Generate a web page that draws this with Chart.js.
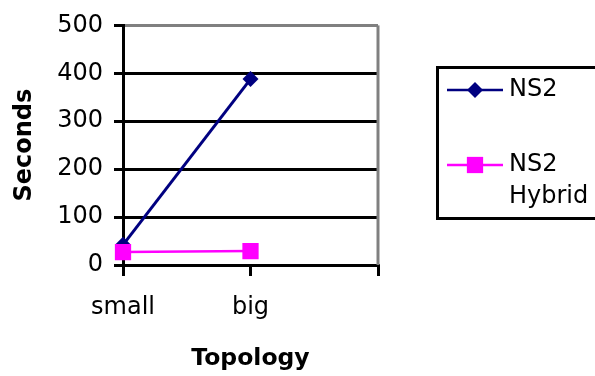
<!DOCTYPE html>
<html>
<head>
<meta charset="utf-8">
<script src="https://cdn.jsdelivr.net/npm/chart.js@4.4.1/dist/chart.umd.min.js"></script>
<style>
  html, body { margin: 0; padding: 0; background: #fff; }
  #wrap { width: 595px; height: 376px; }
</style>
</head>
<body>
<div id="wrap"><canvas id="chart" width="595" height="376"></canvas></div>
<script>
var categories = ['small', 'big', ''];
var ns2 = [42, 388];
var ns2Hybrid = [27, 29];
var yTicks = [0, 100, 200, 300, 400, 500];

var FONT = 'DejaVu Sans';

// boxed legend on the right, partly running off the edge
var boxLegend = {
  id: 'boxLegend',
  afterDraw: function(chart) {
    var ctx = chart.ctx;
    var ds = chart.data.datasets;
    ctx.save();
    ctx.strokeStyle = '#000';
    ctx.lineWidth = 3;
    ctx.strokeRect(437.5, 67.5, 200, 151);

    var rows = [
      { d: ds[1], y: 90, text: ['NS2'] },
      { d: ds[0], y: 165, text: ['NS2', 'Hybrid'] }
    ];
    rows.forEach(function(r) {
      ctx.strokeStyle = r.d.borderColor;
      ctx.lineWidth = 2.5;
      ctx.beginPath();
      ctx.moveTo(447, r.y);
      ctx.lineTo(503, r.y);
      ctx.stroke();
      ctx.fillStyle = r.d.pointBackgroundColor;
      Chart.helpers.drawPoint(ctx, {
        pointStyle: r.d.pointStyle,
        radius: r.d.pointRadius,
        borderWidth: 0,
        rotation: 0
      }, 475, r.y);
      ctx.fillStyle = '#000';
      ctx.font = '24px "' + FONT + '"';
      ctx.textBaseline = 'middle';
      ctx.textAlign = 'left';
      r.text.forEach(function(t, i) {
        ctx.fillText(t, 509, r.y + i * 32);
      });
    });
    ctx.restore();
  }
};

// grey right edge of the plot area
var plotEdge = {
  id: 'plotEdge',
  beforeDatasetsDraw: function(chart) {
    var a = chart.chartArea;
    var ctx = chart.ctx;
    ctx.save();
    ctx.strokeStyle = '#808080';
    ctx.lineWidth = 3;
    ctx.beginPath();
    ctx.moveTo(a.right, a.top);
    ctx.lineTo(a.right, a.bottom);
    ctx.stroke();
    ctx.restore();
  }
};

var bgWhite = {
  id: 'bgWhite',
  beforeDraw: function(chart) {
    var ctx = chart.ctx;
    ctx.save();
    ctx.fillStyle = '#fff';
    ctx.fillRect(0, 0, chart.width, chart.height);
    ctx.restore();
  }
};

var chart = new Chart(document.getElementById('chart'), {
  type: 'line',
  data: {
    labels: categories,
    datasets: [{
      label: 'NS2 Hybrid',
      data: ns2Hybrid,
      borderColor: '#ff00ff',
      backgroundColor: '#ff00ff',
      pointBackgroundColor: '#ff00ff',
      pointBorderColor: '#ff00ff',
      borderWidth: 2.5,
      pointStyle: 'rect',
      pointRadius: 11.5,
      pointBorderWidth: 0,
      tension: 0,
      order: 0
    }, {
      label: 'NS2',
      data: ns2,
      borderColor: '#000080',
      backgroundColor: '#000080',
      pointBackgroundColor: '#000080',
      pointBorderColor: '#000080',
      borderWidth: 3,
      pointStyle: 'rectRot',
      pointRadius: 8,
      pointBorderWidth: 0,
      tension: 0,
      order: 1
    }]
  },
  options: {
    responsive: false,
    animation: false,
    events: [],
    layout: { padding: { left: 0, right: 217, top: 22, bottom: 0 } },
    plugins: {
      legend: { display: false },
      tooltip: { enabled: false }
    },
    scales: {
      x: {
        offset: false,
        grid: {
          drawOnChartArea: false,
          drawTicks: true,
          tickLength: 11,
          color: '#000',
          tickColor: '#000',
          lineWidth: 3
        },
        border: { display: true, color: '#000', width: 3 },
        ticks: {
          color: '#000',
          font: { family: FONT, size: 24 },
          padding: 17,
          maxRotation: 0,
          autoSkip: false
        },
        title: {
          display: true,
          text: 'Topology',
          color: '#000',
          font: { family: FONT, size: 23.5, weight: 'bold' },
          padding: { top: 0, bottom: 3 }
        },
        afterFit: function(s) { s.height = 111; }
      },
      y: {
        min: 0,
        max: 500,
        afterBuildTicks: function(s) {
          s.ticks = yTicks.map(function(v) { return { value: v }; });
        },
        grid: {
          color: function(c) { return c.tick && c.tick.value === 500 ? '#808080' : '#000'; },
          tickColor: '#000',
          lineWidth: 3,
          drawTicks: true,
          tickLength: 9
        },
        border: { display: true, color: '#000', width: 3 },
        ticks: {
          color: '#000',
          font: { family: FONT, size: 24 },
          padding: 11
        },
        title: {
          display: true,
          text: 'Seconds',
          color: '#000',
          font: { family: FONT, size: 24, weight: 'bold' },
          padding: { top: 10, bottom: 0 }
        },
        afterFit: function(s) { s.width = 123; }
      }
    }
  },
  plugins: [bgWhite, plotEdge, boxLegend]
});
</script>
</body>
</html>
